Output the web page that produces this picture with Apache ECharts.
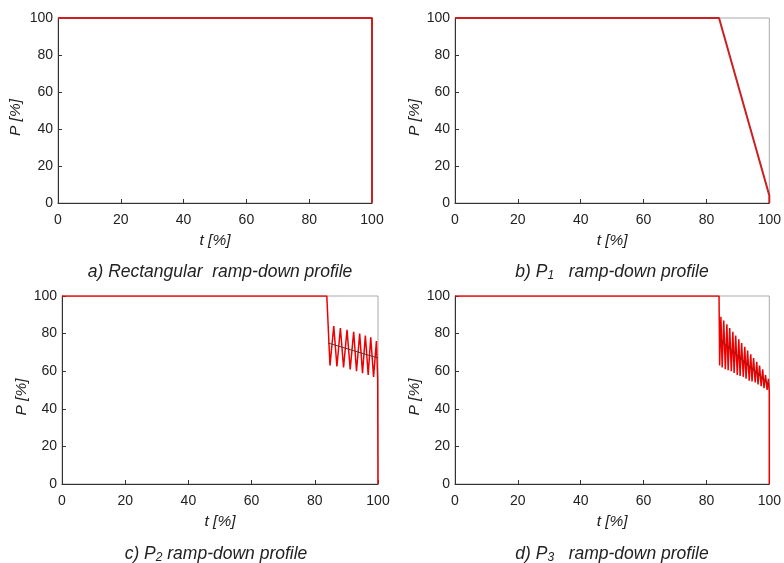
<!DOCTYPE html>
<html>
<head>
<meta charset="utf-8">
<script src="https://cdn.jsdelivr.net/npm/echarts@6/dist/echarts.min.js"></script>
<style>
  html, body { margin: 0; padding: 0; background: #fff; }
  #chart { width: 784px; height: 563px; }
</style>
</head>
<body>
<div id="chart"></div>
<script>
// t [%], P [%] pairs
var profileA = [[0, 100], [100, 100], [100, 0]];
var profileB = [[0, 100], [84, 100], [100, 4], [100, 0]];
var profileC = [
  [0, 100], [83.8, 100], [84.8, 63], [86.0, 84], [87.0, 62.5], [88.1, 83], [89.1, 62],
  [90.2, 82], [91.2, 61], [92.3, 81], [93.2, 60], [94.2, 80], [95.1, 59], [96.0, 79],
  [96.9, 58], [97.7, 78], [98.6, 57], [99.5, 76], [99.9, 56], [100, 0]
];
var meanC = [[84.2, 75], [100, 67]];
var profileD = [
  [0, 100], [84.0, 100], [84.2, 63], [84.6, 89], [85.0, 62], [85.5, 87], [86.0, 61],
  [86.5, 85], [86.9, 60.5], [87.4, 83], [87.9, 60], [88.4, 81], [88.8, 59], [89.3, 79],
  [89.8, 58], [90.3, 77], [90.7, 57.5], [91.2, 75], [91.7, 57], [92.2, 73], [92.6, 56],
  [93.1, 71], [93.6, 55], [94.1, 69], [94.5, 54.5], [95.0, 67], [95.5, 54], [96.0, 65],
  [96.4, 53], [96.9, 63], [97.4, 52], [97.9, 61], [98.3, 51], [98.8, 58], [99.3, 50],
  [99.7, 56], [100, 49], [100, 0]
];
var meanD = [[84.2, 77], [100, 53]];
var tickStep = 20;
var captions = [
  'a) Rectangular  ramp-down profile',
  'b) P{s|1}   ramp-down profile',
  'c) P{s|2} ramp-down profile',
  'd) P{s|3}   ramp-down profile'
];

var font = '"Liberation Sans", Arial, sans-serif';
var grids = [
  {left: 58, top: 18, width: 314, height: 185},
  {left: 455, top: 18, width: 315, height: 185},
  {left: 62, top: 296, width: 316, height: 188},
  {left: 455, top: 296, width: 315, height: 188}
];
var capPos = [[220, 272], [612, 272], [216, 554], [612, 554]];
var yNameGap = [34, 31, 32, 31];

function xAxisFor(i) {
  return {
    gridIndex: i, type: 'value', min: 0, max: 100, interval: tickStep,
    name: 't [%]', nameLocation: 'middle', nameGap: 30,
    nameTextStyle: {fontFamily: font, fontSize: 15.5, fontStyle: 'italic', color: '#222'},
    axisLine: {lineStyle: {color: '#333', width: 1}},
    axisTick: {inside: true, length: 4, lineStyle: {color: '#333'}},
    axisLabel: {fontFamily: font, fontSize: 14, color: '#222', margin: 10},
    splitLine: {show: false}
  };
}
function yAxisFor(i) {
  return {
    gridIndex: i, type: 'value', min: 0, max: 100, interval: tickStep,
    name: 'P [%]', nameLocation: 'middle', nameGap: yNameGap[i], nameRotate: 90,
    nameTextStyle: {fontFamily: font, fontSize: 15.5, fontStyle: 'italic', color: '#222', padding: [0, 0, 0, -14]},
    axisLine: {lineStyle: {color: '#333', width: 1}},
    axisTick: {inside: true, length: 4, lineStyle: {color: '#333'}},
    axisLabel: {fontFamily: font, fontSize: 14, color: '#222', margin: 5},
    splitLine: {show: false}
  };
}
function lineSeries(i, data, color, width, z) {
  return {
    type: 'line', xAxisIndex: i, yAxisIndex: i, data: data,
    showSymbol: false, symbol: 'none', animation: false, z: z || 2,
    lineStyle: {color: color, width: width}
  };
}

var myChart = echarts.init(document.getElementById('chart'));
myChart.setOption({
  backgroundColor: '#fff',
  animation: false,
  graphic: captions.map(function (c, i) {
    return {
      type: 'text', x: capPos[i][0], y: capPos[i][1], silent: true,
      style: {
        text: c, align: 'center', verticalAlign: 'middle', fill: '#222',
        font: 'italic 17.5px ' + font,
        rich: {
          s: {font: 'italic 12px ' + font, fill: '#222', verticalAlign: 'bottom', padding: [7, 0, 0, 0]}
        }
      }
    };
  }),
  grid: grids.map(function (g) {
    return Object.assign({show: true, borderColor: '#aaa', borderWidth: 1, backgroundColor: '#fff'}, g);
  }),
  xAxis: [0, 1, 2, 3].map(xAxisFor),
  yAxis: [0, 1, 2, 3].map(yAxisFor),
  series: [
    lineSeries(0, profileA, '#cc1f1f', 2),
    lineSeries(1, profileB, '#cc1f1f', 2),
    lineSeries(2, profileC, '#ee0000', 1.5),
    lineSeries(2, meanC, '#6b2a2a', 1, 3),
    lineSeries(3, profileD, '#ee0000', 1.5),
    lineSeries(3, meanD, '#6b2a2a', 1, 3)
  ]
});
</script>
</body>
</html>
